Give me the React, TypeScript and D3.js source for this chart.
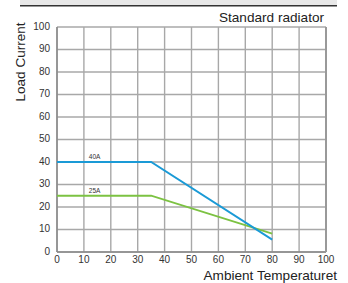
import React, { useEffect, useRef } from 'react';
import * as d3 from 'd3';

const temps40 = [0, 35, 80];
const current40 = [40, 40, 5.5];
const temps25 = [0, 35, 80];
const current25 = [25, 25, 8.2];
const xTicks = [0, 10, 20, 30, 40, 50, 60, 70, 80, 90, 100];
const yTicks = [0, 10, 20, 30, 40, 50, 60, 70, 80, 90, 100];

const App: React.FC = () => {
  const ref = useRef<SVGSVGElement>(null);

  useEffect(() => {
    const width = 348;
    const height = 283;
    const svg = d3.select(ref.current);
    svg.selectAll('*').remove();
    svg.attr('width', width).attr('height', height);

    const font = 'Liberation Sans, Arial, sans-serif';

    // top header strip
    svg.append('rect').attr('x', 20).attr('y', 0).attr('width', 317).attr('height', 5).attr('fill', '#e8e8e8');
    svg.append('line').attr('x1', 20).attr('x2', 337).attr('y1', 5.8).attr('y2', 5.8)
      .attr('stroke', '#333').attr('stroke-width', 1.5);

    const x = d3.scaleLinear().domain([0, 100]).range([57, 326]);
    const y = d3.scaleLinear().domain([0, 100]).range([252, 27]);

    const g = svg.append('g');

    // grid
    g.selectAll('line.vg').data(xTicks).join('line')
      .attr('x1', d => x(d)).attr('x2', d => x(d))
      .attr('y1', y(0)).attr('y2', y(100))
      .attr('stroke', '#a8a8a8').attr('stroke-width', 1.4);
    g.selectAll('line.hg').data(yTicks).join('line')
      .attr('x1', x(0)).attr('x2', x(100))
      .attr('y1', d => y(d)).attr('y2', d => y(d))
      .attr('stroke', '#a8a8a8').attr('stroke-width', 1.4);
    // axes lines
    g.append('line').attr('x1', x(0)).attr('x2', x(0)).attr('y1', y(0)).attr('y2', y(100))
      .attr('stroke', '#888').attr('stroke-width', 1.5);
    g.append('line').attr('x1', x(0)).attr('x2', x(100)).attr('y1', y(0)).attr('y2', y(0))
      .attr('stroke', '#888').attr('stroke-width', 1.5);
    g.append('line').attr('x1', x(100)).attr('x2', x(100)).attr('y1', y(0)).attr('y2', y(100))
      .attr('stroke', '#999').attr('stroke-width', 2);

    // tick labels
    g.selectAll('text.yt').data(yTicks).join('text')
      .attr('x', 50).attr('y', d => y(d) - 1).attr('dy', '0.35em')
      .attr('text-anchor', 'end').attr('font-family', font).attr('font-size', 10).attr('fill', '#333')
      .text(d => d);
    g.selectAll('text.xt').data(xTicks).join('text')
      .attr('x', d => x(d)).attr('y', 263)
      .attr('text-anchor', 'middle').attr('font-family', font).attr('font-size', 10).attr('fill', '#333')
      .text(d => d);

    const line = d3.line<[number, number]>().x(d => x(d[0])).y(d => y(d[1]));

    g.append('path').datum(temps25.map((t, i) => [t, current25[i]] as [number, number]))
      .attr('d', line).attr('fill', 'none').attr('stroke', '#7cc242').attr('stroke-width', 1.8);
    g.append('path').datum(temps40.map((t, i) => [t, current40[i]] as [number, number]))
      .attr('d', line).attr('fill', 'none').attr('stroke', '#1a9ad6').attr('stroke-width', 1.8);

    g.append('text').attr('x', x(14)).attr('y', y(40) - 3).attr('text-anchor', 'middle')
      .attr('font-family', font).attr('font-size', 6.5).attr('fill', '#333').text('40A');
    g.append('text').attr('x', x(14)).attr('y', y(25) - 3).attr('text-anchor', 'middle')
      .attr('font-family', font).attr('font-size', 6.5).attr('fill', '#333').text('25A');

    // titles
    svg.append('text').attr('x', 324).attr('y', 22).attr('text-anchor', 'end')
      .attr('font-family', font).attr('font-size', 13.6).attr('fill', '#222').text('Standard radiator');
    svg.append('text').attr('x', 337).attr('y', 280).attr('text-anchor', 'end')
      .attr('font-family', font).attr('font-size', 13.6).attr('fill', '#222').text('Ambient Temperaturet');
    svg.append('text').attr('transform', 'translate(20,62) rotate(-90)').attr('text-anchor', 'middle')
      .attr('dy', '0.35em').attr('font-family', font).attr('font-size', 13.5).attr('fill', '#222').text('Load Current');
  }, []);

  return (
    <svg ref={ref} style={{ position: 'absolute', left: 0, top: 0 }} />
  );
};

export default App;
